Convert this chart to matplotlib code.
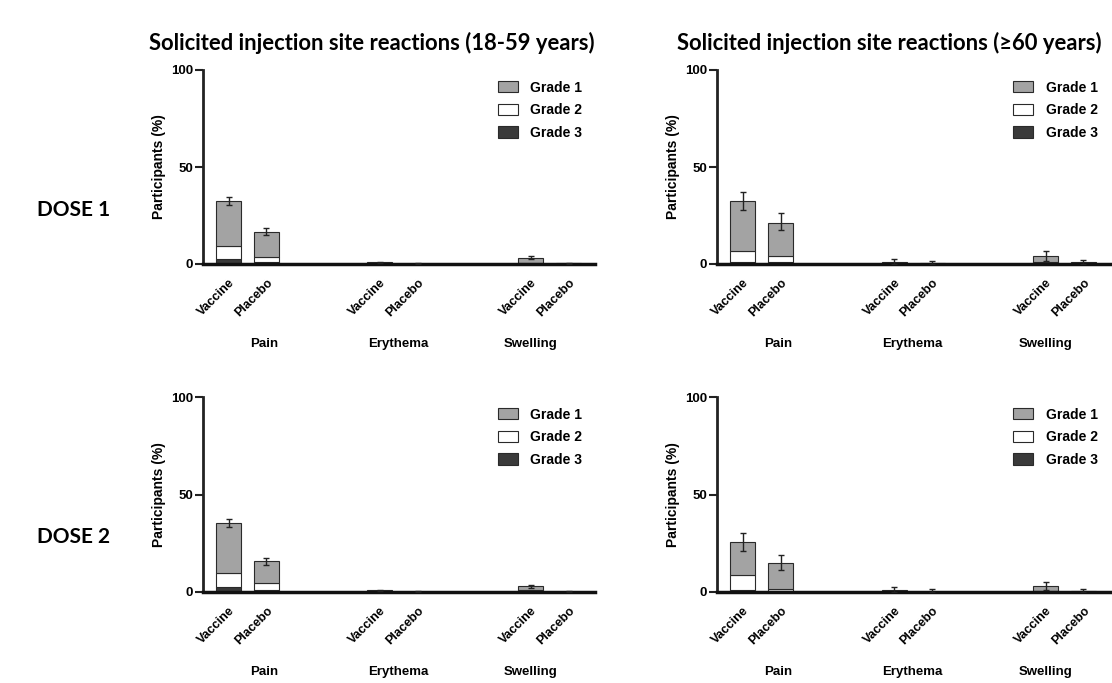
import matplotlib
matplotlib.use("Agg")
import matplotlib.pyplot as plt
from matplotlib.patches import Patch
import matplotlib.transforms as mtransforms
import numpy as np

# ---------------- data ----------------
reactions = ["Pain", "Erythema", "Swelling"]
arms = ["Vaccine", "Placebo"]
grades = ["Grade 1", "Grade 2", "Grade 3"]
titles = ["Solicited injection site reactions (18-59 years)",
          "Solicited injection site reactions (\u226560 years)"]
doses = ["DOSE 1", "DOSE 2"]
yticks = [0, 50, 100]

# order of bars: Pain V, Pain P, Erythema V, Erythema P, Swelling V, Swelling P
# Dose 1, 18-59 years
d1_young_g3 = [2.5, 0.8, 0.1, 0.0, 0.1, 0.0]
d1_young_g2 = [6.8, 3.0, 0.2, 0.0, 0.4, 0.0]
d1_young_g1 = [23.2, 12.9, 0.5, 0.2, 2.7, 0.3]
d1_young_lo = [30.4, 15.0, 0.5, 0.1, 2.5, 0.1]
d1_young_hi = [34.5, 18.7, 1.2, 0.5, 4.0, 0.6]
# Dose 1, >=60 years
d1_old_g3 = [1.2, 0.9, 0.1, 0.0, 0.3, 0.2]
d1_old_g2 = [5.7, 3.2, 0.2, 0.1, 0.5, 0.2]
d1_old_g1 = [25.6, 17.2, 0.5, 0.5, 3.3, 0.4]
d1_old_lo = [27.8, 17.5, 0.2, 0.2, 1.8, 0.2]
d1_old_hi = [37.3, 26.1, 2.7, 1.5, 6.9, 2.2]
# Dose 2, 18-59 years
d2_young_g3 = [2.4, 1.2, 0.0, 0.0, 0.3, 0.0]
d2_young_g2 = [7.3, 3.4, 0.2, 0.0, 0.6, 0.0]
d2_young_g1 = [25.7, 11.1, 0.6, 0.1, 2.0, 0.2]
d2_young_lo = [33.3, 14.0, 0.5, 0.0, 2.2, 0.0]
d2_young_hi = [37.4, 17.4, 1.2, 0.3, 3.7, 0.4]
# Dose 2, >=60 years
d2_old_g3 = [1.2, 0.3, 0.2, 0.0, 0.1, 0.0]
d2_old_g2 = [7.7, 1.2, 0.2, 0.0, 0.4, 0.0]
d2_old_g1 = [16.5, 13.4, 0.4, 0.2, 2.4, 0.3]
d2_old_lo = [21.2, 11.4, 0.2, 0.0, 1.0, 0.0]
d2_old_hi = [30.3, 18.8, 2.4, 1.5, 5.1, 1.5]

panels = [
    [(d1_young_g1, d1_young_g2, d1_young_g3, d1_young_lo, d1_young_hi),
     (d1_old_g1, d1_old_g2, d1_old_g3, d1_old_lo, d1_old_hi)],
    [(d2_young_g1, d2_young_g2, d2_young_g3, d2_young_lo, d2_young_hi),
     (d2_old_g1, d2_old_g2, d2_old_g3, d2_old_lo, d2_old_hi)],
]

# ---------------- style ----------------
c_g1 = "#a3a3a3"
c_g2 = "#ffffff"
c_g3 = "#3a3a3a"
edge = "#2a2a2a"
axis_font = ["Liberation Sans", "DejaVu Sans"]
title_font = ["Lato", "DejaVu Sans"]

fig = plt.figure(figsize=(11.12, 6.83), dpi=100)

W, H = 1112, 683
ax_boxes = {
    (0, 0): (203, 70, 595, 264),
    (0, 1): (717, 70, 1110, 264),
    (1, 0): (203, 397, 595, 592),
    (1, 1): (717, 397, 1110, 592),
}

# bar positions: groups of two with a gap
pos = []
for gi in range(len(reactions)):
    for ai in range(len(arms)):
        pos.append(gi * 4 + ai)
pos = np.array(pos, dtype=float)
group_label_x = [0.94, 4.49, 8.0]
bw = 0.66

for r in range(2):
    for c in range(2):
        x0, y0, x1, y1 = ax_boxes[(r, c)]
        ax = fig.add_axes([x0 / W, 1 - y1 / H, (x1 - x0) / W, (y1 - y0) / H])
        g1, g2, g3, lo, hi = [np.array(v) for v in panels[r][c]]
        ax.bar(pos, g3, width=bw, color=c_g3, edgecolor=edge, linewidth=0.8, zorder=2)
        ax.bar(pos, g2, width=bw, bottom=g3, color=c_g2, edgecolor=edge, linewidth=0.8, zorder=2)
        ax.bar(pos, g1, width=bw, bottom=g3 + g2, color=c_g1, edgecolor=edge, linewidth=0.8, zorder=2)
        tot = g1 + g2 + g3
        ax.errorbar(pos, tot, yerr=[tot - lo, hi - tot], fmt="none", ecolor="#222222",
                    elinewidth=1.0, capsize=2, capthick=1.0, zorder=3)
        ax.set_xlim(-0.68, 9.7)
        ax.set_ylim(0, 100)
        ax.set_yticks(yticks)
        ax.set_yticklabels([str(t) for t in yticks], fontsize=9.5, fontweight="bold",
                           family=axis_font)
        ax.tick_params(axis="y", length=6, width=1.5, direction="out", pad=1, color="#222222")
        ax.set_xticks(pos)
        ax.set_xticklabels(arms * len(reactions), rotation=45, ha="right", va="top",
                           rotation_mode="anchor", fontsize=9, fontweight="bold",
                           family=axis_font)
        ax.tick_params(axis="x", length=0, pad=9)
        for s in ["top", "right"]:
            ax.spines[s].set_visible(False)
        ax.spines["left"].set_linewidth(2.0)
        ax.spines["left"].set_color("#222222")
        ax.spines["bottom"].set_linewidth(2.5)
        ax.spines["bottom"].set_color("#111111")
        ax.set_ylabel("Participants (%)", fontsize=10, fontweight="bold", family=axis_font,
                      labelpad=4)
        trans = mtransforms.blended_transform_factory(ax.transData, ax.transAxes)
        for gx, name in zip(group_label_x, reactions):
            ax.text(gx, -0.41, name, transform=trans, ha="center", va="center",
                    fontsize=9.5, fontweight="bold", family=axis_font)
        handles = [Patch(facecolor=c_g1, edgecolor=edge, linewidth=0.8),
                   Patch(facecolor=c_g2, edgecolor=edge, linewidth=0.8),
                   Patch(facecolor=c_g3, edgecolor=edge, linewidth=0.8)]
        leg = ax.legend(handles, grades, loc="upper right", bbox_to_anchor=(1.0, 1.01),
                        frameon=False, handlelength=1.45, handleheight=0.85,
                        labelspacing=0.62, handletextpad=0.9,
                        prop={"family": axis_font, "weight": "bold", "size": 10})

for i, t in enumerate(titles):
    cx = [372, 889][i]
    fig.text(cx / W, 1 - 43 / H, t, ha="center", va="center", fontsize=15.8,
             fontweight="bold", family=title_font)
for i, d in enumerate(doses):
    cy = [210, 537][i]
    fig.text(74 / W, 1 - cy / H, d, ha="center", va="center", fontsize=15,
             fontweight="bold", family=title_font)

fig.savefig("out.png", dpi=100)
